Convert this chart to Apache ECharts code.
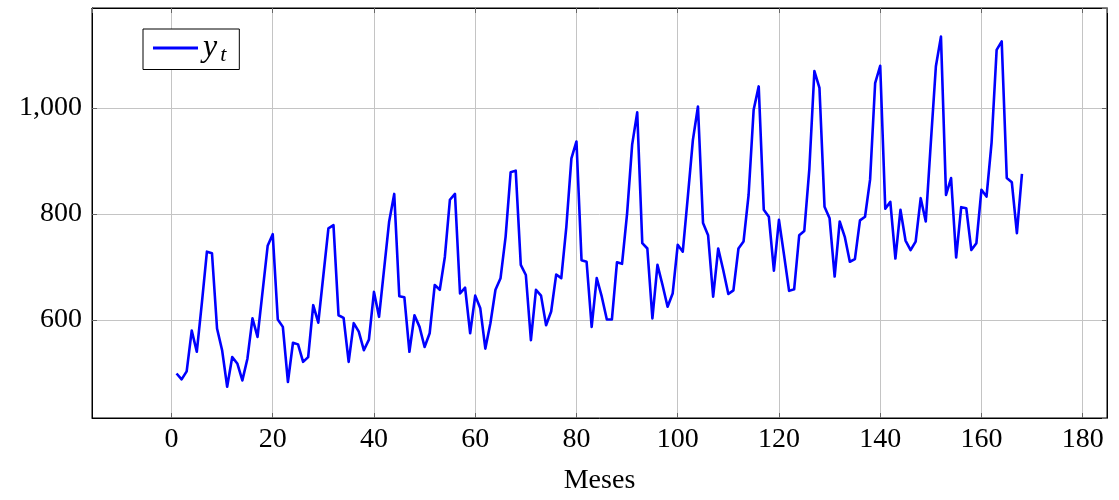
<!DOCTYPE html>
<html>
<head>
<meta charset="utf-8">
<script src="https://cdn.jsdelivr.net/npm/echarts@6/dist/echarts.min.js"></script>
<style>
html,body{margin:0;padding:0;background:#fff;}
#chart{width:1119px;height:500px;}
</style>
</head>
<body>
<div id="chart"></div>
<script>
// Months 1..168
const months = Array.from({length: 168}, (_, k) => k + 1);
const yt = [
  499, 488, 503, 580, 540, 632, 729, 726, 584, 543, 474, 530,
  518, 486, 527, 603, 568, 654, 740, 762, 601, 587, 483, 557,
  554, 521, 530, 628, 595, 684, 773, 779, 609, 604, 521, 594,
  578, 543, 563, 653, 606, 696, 786, 838, 645, 643, 540, 609,
  587, 549, 575, 666, 657, 719, 827, 838, 650, 661, 575, 646,
  622, 546, 594, 657, 679, 757, 879, 882, 704, 685, 562, 657,
  646, 590, 616, 686, 679, 776, 905, 937, 713, 710, 587, 679,
  644, 601, 601, 709, 706, 801, 931, 992, 745, 735, 603, 704,
  666, 625, 650, 742, 729, 833, 940, 1003, 783, 760, 644, 735,
  694, 649, 656, 735, 748, 836, 997, 1041, 808, 795, 693, 789,
  723, 655, 658, 760, 768, 885, 1070, 1038, 814, 792, 682, 786,
  757, 710, 715, 788, 795, 865, 1047, 1080, 810, 823, 716, 808,
  750, 732, 748, 830, 786, 935, 1079, 1135, 836, 868, 718, 813,
  811, 732, 745, 846, 833, 935, 1110, 1126, 868, 860, 764, 876
];
const xTicks = [0, 20, 40, 60, 80, 100, 120, 140, 160, 180];
const yTicks = [600, 800, 1000];
const seriesName = 'y_t';
const xName = 'Meses';

const FONT = 'Liberation Serif';
const chart = echarts.init(document.getElementById('chart'), null, {renderer: 'canvas'});
const data = months.map((m, k) => [m, yt[k]]);
const fmtNum = v => String(v).replace(/\B(?=(\d{3})+(?!\d))/g, ',');

const X_MIN = -15.7, X_MAX = 184.8, Y_MIN = 415, Y_MAX = 1189;
const gridLine = {show: true, lineStyle: {color: '#c4c4c4', width: 1}};
const tick = {show: true, inside: true, length: 5, lineStyle: {color: '#666', width: 1}};
const isTick = (list, v) => list.some(t => Math.abs(t - v) < 1e-6);

chart.setOption({
  animation: false,
  backgroundColor: '#fff',
  grid: {left: 92, right: 12, top: 8, bottom: 82, show: true, borderColor: '#000', borderWidth: 1, backgroundColor: 'transparent'},
  legend: {
    show: true,
    left: 143, top: 29,
    orient: 'horizontal',
    icon: 'rect',
    itemWidth: 45, itemHeight: 3,
    itemGap: 6,
    padding: [3, 13, 3, 10],
    borderColor: '#000', borderWidth: 1, borderRadius: 0,
    backgroundColor: '#fff',
    formatter: () => '{a|y}{b|t}',
    textStyle: {
      rich: {
        a: {fontFamily: FONT, fontStyle: 'italic', fontSize: 32, color: '#000', padding: [0, 3, 0, 0]},
        b: {fontFamily: FONT, fontStyle: 'italic', fontSize: 22, color: '#000', padding: [15, 0, 0, 0]}
      }
    },
    data: [{name: seriesName, itemStyle: {color: '#0000ff'}}]
  },
  xAxis: [{
    type: 'value',
    min: X_MIN, max: X_MAX,
    splitNumber: 10,
    name: xName,
    nameLocation: 'middle',
    nameGap: 49,
    nameTextStyle: {fontFamily: FONT, fontSize: 28, color: '#000'},
    axisLine: {show: true, onZero: false, lineStyle: {color: '#000', width: 1}},
    axisTick: tick,
    splitLine: gridLine,
    axisLabel: {
      fontFamily: FONT, fontSize: 28, color: '#000', margin: 8,
      showMinLabel: false, showMaxLabel: false,
      formatter: v => isTick(xTicks, v) ? String(Math.round(v)) : ''
    }
  }, {
    type: 'value', position: 'top',
    min: X_MIN, max: X_MAX, splitNumber: 10,
    axisLine: {show: true, onZero: false, lineStyle: {color: '#000', width: 1}},
    axisTick: tick, axisLabel: {show: false}, splitLine: {show: false}
  }],
  yAxis: [{
    type: 'value',
    min: Y_MIN, max: Y_MAX,
    splitNumber: 4,
    axisLine: {show: true, onZero: false, lineStyle: {color: '#000', width: 1}},
    axisTick: tick,
    splitLine: gridLine,
    axisLabel: {
      fontFamily: FONT, fontSize: 28, color: '#000', margin: 10,
      showMinLabel: false, showMaxLabel: false,
      formatter: v => isTick(yTicks, v) ? fmtNum(Math.round(v)) : ''
    }
  }, {
    type: 'value', position: 'right',
    min: Y_MIN, max: Y_MAX, splitNumber: 4,
    axisLine: {show: true, onZero: false, lineStyle: {color: '#000', width: 1}},
    axisTick: tick, axisLabel: {show: false}, splitLine: {show: false}
  }],
  series: [{
    name: seriesName,
    type: 'line',
    xAxisIndex: 0, yAxisIndex: 0,
    data: data,
    showSymbol: false,
    symbol: 'none',
    lineStyle: {color: '#0000ff', width: 2.6, join: 'round'},
    itemStyle: {color: '#0000ff'},
    z: 3
  }]
});
</script>
</body>
</html>
